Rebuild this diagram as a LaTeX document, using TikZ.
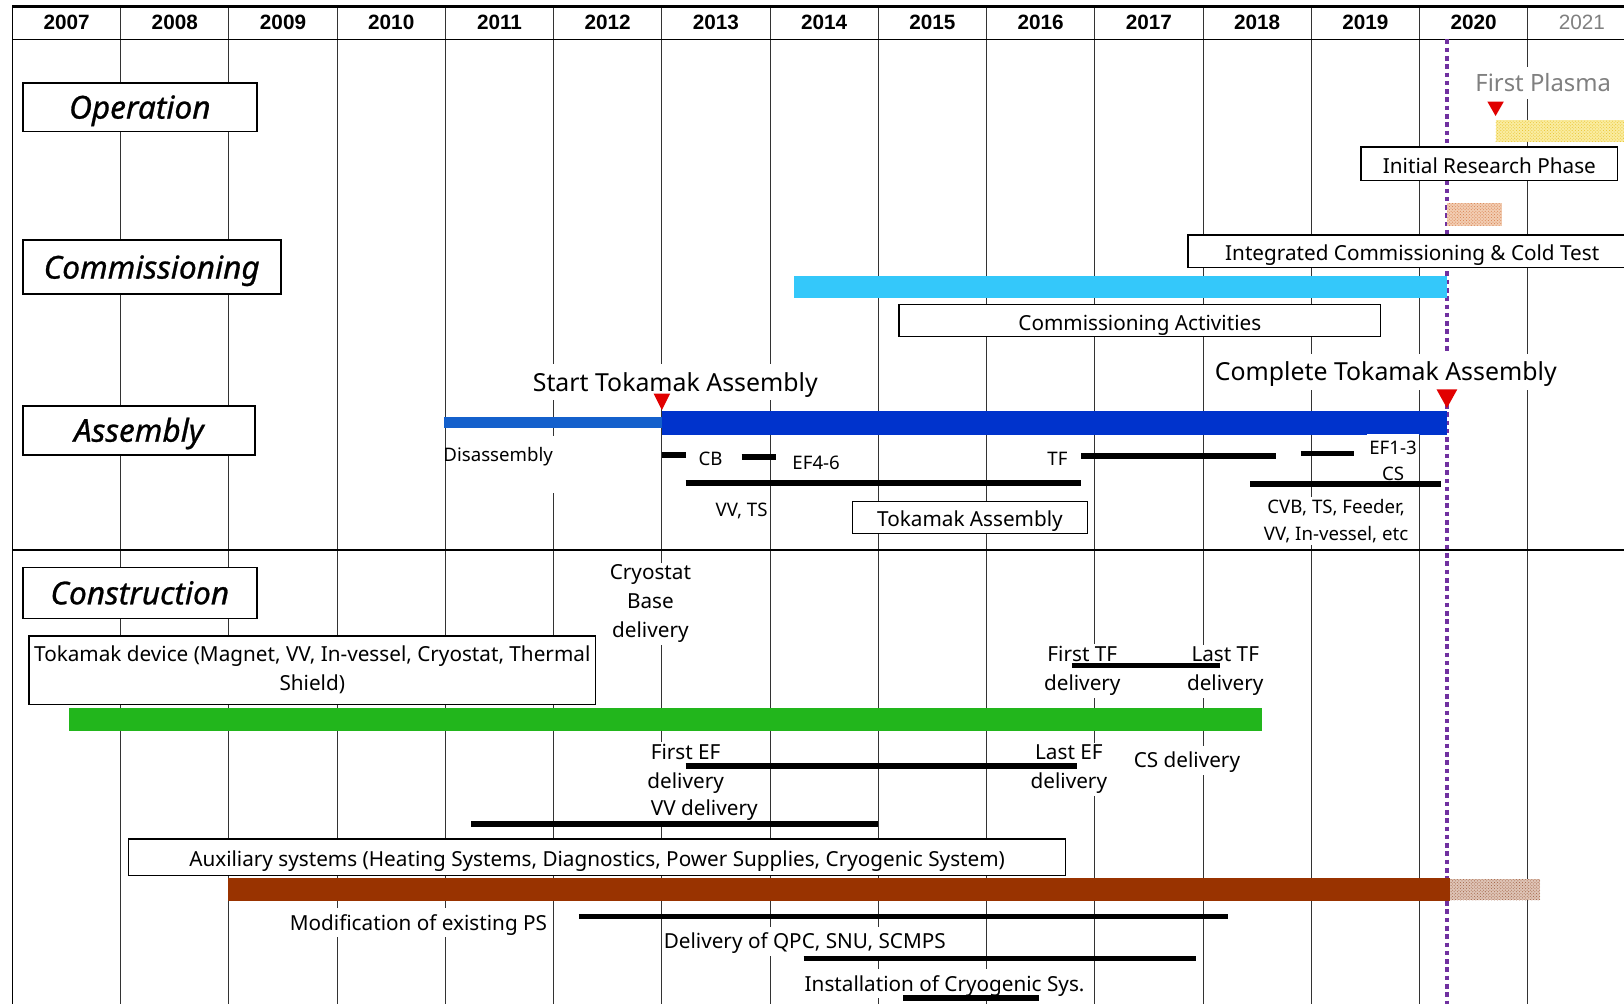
\documentclass[tikz,border=0pt]{standalone}
\usepackage{fontspec}
\setmainfont{Noto Sans}
\newfontfamily\yearfamily{Liberation Sans}
\newfontfamily\headfamily{Noto Sans}[FakeBold=0.8]
\usetikzlibrary{patterns}

\definecolor{msred}{RGB}{225,0,0}
\definecolor{cyanbar}{RGB}{52,200,250}
\definecolor{asmblue}{RGB}{0,51,204}
\definecolor{disblue}{RGB}{20,96,204}
\definecolor{greenbar}{RGB}{34,182,28}
\definecolor{brownbar}{RGB}{153,51,0}
\definecolor{planpurple}{RGB}{112,48,160}
\definecolor{dotyellow}{RGB}{232,195,45}
\definecolor{bgyellow}{RGB}{250,236,160}
\definecolor{dotorange}{RGB}{215,125,75}
\definecolor{bgorange}{RGB}{242,205,178}
\definecolor{dotbrown}{RGB}{160,95,65}
\definecolor{bgbrown}{RGB}{222,196,182}

\newcommand\lblfont{\fontsize{20}{28}\selectfont}
\newcommand\smlfont{\fontsize{18}{25}\selectfont}
\newcommand\bgfont{\fontsize{24}{28}\selectfont}
\newcommand\catfont{\headfamily\fontsize{30.5}{34}\selectfont\itshape}
\newcommand\yrfont{\yearfamily\fontsize{20}{24}\selectfont\bfseries}

\begin{document}
\begin{tikzpicture}[x=1pt,y=-1pt,
  gridline/.style={draw=black!80, line width=0.9pt},
  catbox/.style={draw, fill=white, line width=1.6pt, font=\catfont, inner sep=0pt, text height=29.3pt, text depth=7.3pt},
  tbox/.style={draw, fill=white, line width=1.2pt, font=\lblfont, inner sep=0pt, align=center, text height=23.2pt, text depth=4.8pt},
  lbl/.style={fill=white, inner sep=2pt, font=\lblfont, align=center, text height=19.2pt, text depth=4.8pt},
  multi/.style={text height={}, text depth={}},
  sml/.style={fill=white, inner sep=2pt, font=\smlfont, align=center, text height=17.3pt, text depth=4.3pt},
  bgl/.style={fill=white, inner sep=3pt, font=\bgfont, text height=23pt, text depth=5.8pt},
  blackbar/.style={line width=5.5pt},
  milestone/.style={fill=msred},
  yearlbl/.style={font=\yrfont, inner sep=0pt},
]
\useasboundingbox (0,0) rectangle (1568,969);
\clip (0,0) rectangle (1568,969);
\fill[white] (0,0) rectangle (1568,969);

% year grid
\foreach \k in {1,...,14}
  \draw[gridline] ({12+104.5*\k},6) -- ({12+104.5*\k},969);
\draw[line width=1.5pt] (12,6) -- (12,969);
\draw[line width=2.6pt] (12,6) -- (1568,6);
\draw[line width=1pt] (12,38) -- (1568,38);
\draw[line width=2pt] (12,531) -- (1568,531);

\foreach \k in {0,...,13}
  \node[yearlbl] (yr\k) at ({12+104.5*(\k+0.5)},22) {\pgfmathtruncatemacro\yr{2007+\k}\yr};
\node[font=\yearfamily\fontsize{20}{24}\selectfont, text=black!50, inner sep=0pt] (yr14) at ({12+104.5*14.5},22) {2021};

% target date line
\draw[planpurple, line width=4pt, dash pattern=on 4.5pt off 3.5pt] (1397,38) -- (1397,969);

% coloured schedule bars
\fill[bgyellow] (1444,116) rectangle (1568,137);
\fill[pattern=crosshatch dots, pattern color=dotyellow] (1444,116) rectangle (1568,137);
\fill[bgorange] (1397,196) rectangle (1450,218);
\fill[pattern=crosshatch dots, pattern color=dotorange] (1397,196) rectangle (1450,218);
\fill[cyanbar] (767,266) rectangle (1397,288);
\fill[disblue] (429,403) rectangle (639,413);
\fill[asmblue] (639,397) rectangle (1397,420);
\fill[greenbar] (67,684) rectangle (1218,706);
\fill[brownbar] (220,848) rectangle (1400,870);
\fill[bgbrown] (1400,849) rectangle (1487,869);
\fill[pattern=crosshatch dots, pattern color=dotbrown] (1400,849) rectangle (1487,869);

% phase headings
\node[catbox, minimum width=226, minimum height=47] (operation) at (135,103.5) {Operation};
\node[catbox, minimum width=249, minimum height=52] (commissioning) at (146.5,258) {Commissioning};
\node[catbox, minimum width=224, minimum height=47] (assembly) at (134,415.5) {Assembly};
\node[catbox, minimum width=226, minimum height=49] (construction) at (135,572.5) {Construction};

% activity boxes
\node[tbox, minimum width=248, minimum height=32] (research) at (1438,158) {Initial Research Phase};
\node[tbox, minimum width=433, minimum height=31] (integrated) at (1363.5,242.5) {Integrated Commissioning \& Cold Test};
\node[tbox, minimum width=465, minimum height=31] (commact) at (1100.5,309.5) {Commissioning Activities};
\node[tbox, minimum width=227, minimum height=31] (tokasm) at (936.5,499.5) {Tokamak Assembly};
\node[tbox, multi, minimum width=547, minimum height=66] (tokdev) at (301.5,647) {Tokamak device (Magnet, VV, In-vessel, Cryostat, Thermal\\Shield)};
\node[tbox, minimum width=905, minimum height=35] (aux) at (576.5,827.5) {Auxiliary systems (Heating Systems, Diagnostics, Power Supplies, Cryogenic System)};

% free labels
\node[font=\fontsize{23}{28}\selectfont, text=black!50, fill=white, inner sep=2pt, text height=22pt, text depth=5.5pt] (fplasma) at (1490,80) {First Plasma};
\node[bgl] (startasm) at (652,369) {Start Tokamak Assembly};
\node[bgl] (completeasm) at (1338,359) {Complete Tokamak Assembly};
\fill[white] (432,421) rectangle (545,476);
\node[sml, fill=none] (disasm) at (481,439) {Disassembly};
\node[sml] (cb) at (686,443) {CB};
\node[sml] (ef46) at (788,447) {EF4-6};
\node[sml] (tf) at (1021,443) {TF};
\node[sml] (ef13) at (1345,432) {EF1-3};
\node[sml] (cs) at (1345,457) {CS};
\node[sml] (vvts) at (716,492) {VV, TS};
\node[sml, multi, font=\fontsize{18}{26}\selectfont] (cvb) at (1290,503) {CVB, TS, Feeder,\\VV, In-vessel, etc};

\node[lbl, multi] (cryo) at (628,583) {Cryostat\\Base\\delivery};
\node[lbl, multi] (firsttf) at (1045,648) {First TF\\delivery};
\node[lbl, multi] (lasttf) at (1183,648) {Last TF\\delivery};
\node[lbl, multi] (firstef) at (662,742) {First EF\\delivery};
\node[lbl, multi] (lastef) at (1032,743) {Last EF\\delivery};
\node[lbl] (csdel) at (1146,734) {CS delivery};
\node[lbl] (vvdel) at (680,780) {VV delivery};
\node[lbl] (modps) at (404,891) {Modification of existing PS};
\node[lbl] (qpc) at (777,909) {Delivery of QPC, SNU, SCMPS};
\node[lbl] (cryosys) at (912,950) {Installation of Cryogenic Sys.};

% component work bars
\draw[blackbar] (639,439.5) -- (662,439.5);
\draw[blackbar] (716,441) -- (749,441);
\draw[blackbar] (1044,440) -- (1232,440);
\draw[blackbar] (1256,438) -- (1307,438);
\draw[blackbar] (662,466.5) -- (1044,466.5);
\draw[blackbar] (1207,467.5) -- (1391,467.5);
\draw[blackbar] (1035,642.5) -- (1178,642.5);
\draw[blackbar] (662,739.5) -- (1040,739.5);
\draw[blackbar] (455,795.5) -- (848,795.5);
\draw[blackbar] (559,885) -- (1186,885);
\draw[blackbar] (776,925.5) -- (1155,925.5);
\draw[blackbar] (872,963.5) -- (1003,963.5);

% milestones
\fill[milestone] (631,380) -- (647,380) -- (639,396) -- cycle;
\fill[milestone] (1387,376) -- (1407,376) -- (1397,394) -- cycle;
\fill[milestone] (1436,98) -- (1452,98) -- (1444,112) -- cycle;
\end{tikzpicture}
\end{document}
